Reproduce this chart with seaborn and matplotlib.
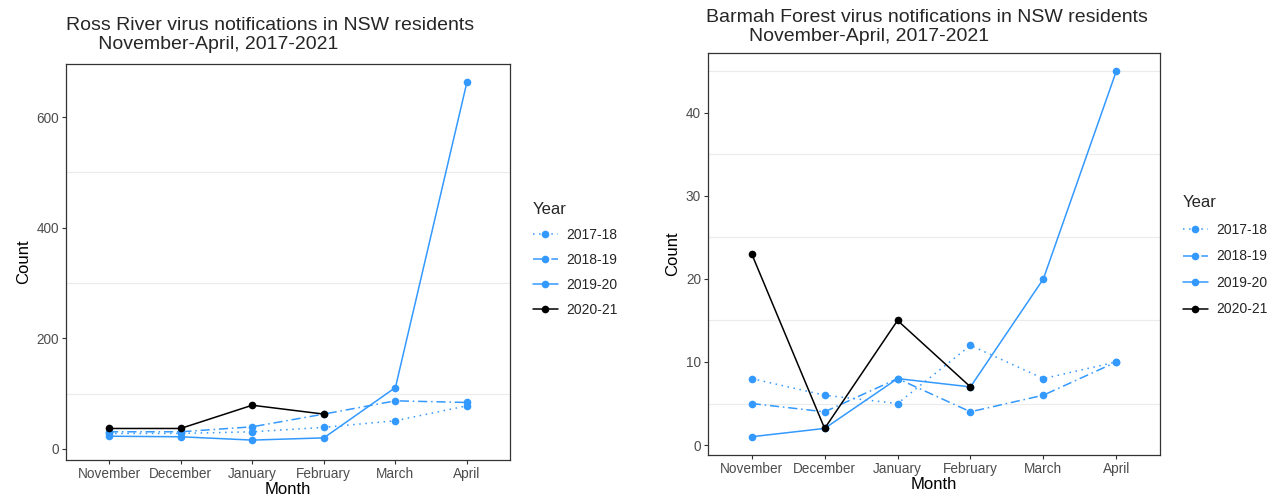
import pandas as pd
import numpy as np
import matplotlib
matplotlib.use('Agg')
import matplotlib.pyplot as plt
import seaborn as sns

months = ['November', 'December', 'January', 'February', 'March', 'April']
years = ['2017-18', '2018-19', '2019-20', '2020-21']

# Ross River virus counts
rrv_1718 = [28, 28, 31, 39, 51, 78]
rrv_1819 = [31, 31, 40, 63, 87, 84]
rrv_1920 = [23, 22, 16, 20, 111, 664]
rrv_2021 = [37, 37, 79, 63]

# Barmah Forest virus counts
bfv_1718 = [8, 6, 5, 12, 8, 10]
bfv_1819 = [5, 4, 8, 4, 6, 10]
bfv_1920 = [1, 2, 8, 7, 20, 45]
bfv_2021 = [23, 2, 15, 7]

blue = '#3399FF'
pal = {'2017-18': blue, '2018-19': blue, '2019-20': blue, '2020-21': 'black'}
dash = {'2017-18': (1, 3), '2018-19': (6, 2.5, 1, 2.5), '2019-20': '', '2020-21': ''}
marks = {y: 'o' for y in years}


def make_df(series):
    rows = []
    for yr, vals in zip(years, series):
        for i, v in enumerate(vals):
            rows.append({'Month': i, 'Count': v, 'Year': yr})
    return pd.DataFrame(rows)


rrv = make_df([rrv_1718, rrv_1819, rrv_1920, rrv_2021])
bfv = make_df([bfv_1718, bfv_1819, bfv_1920, bfv_2021])

sns.set_theme(style='white')
plt.rcParams['font.family'] = ['Liberation Sans', 'DejaVu Sans']

fig = plt.figure(figsize=(12.68, 4.95), dpi=100)
W, H = 1268, 495


def panel(df, rect, title, title_xy, major, minor, ylim, leg_xy, lspace):
    ax = fig.add_axes([rect[0] / W, 1 - rect[3] / H, (rect[2] - rect[0]) / W, (rect[3] - rect[1]) / H])
    sns.lineplot(data=df, x='Month', y='Count', hue='Year', style='Year', palette=pal,
                 dashes=dash, markers=marks, markersize=5.5, markeredgewidth=0,
                 linewidth=1.1, ax=ax, legend=True)
    ax.set_xlim(-0.6, 5.6)
    ax.set_ylim(*ylim)
    ax.set_xticks(range(len(months)))
    ax.set_xticklabels(months)
    ax.set_yticks(major)
    ax.set_yticks(minor, minor=True)
    ax.yaxis.grid(True, which='minor', color='#EBEBEB', lw=0.8)
    ax.yaxis.grid(False, which='major')
    ax.tick_params(axis='both', which='major', length=3, width=0.8, color='#333333',
                   labelcolor='#4D4D4D', labelsize=9.8, pad=2, direction='out', bottom=True, left=True)
    ax.tick_params(axis='y', which='minor', length=0)
    for s in ax.spines.values():
        s.set_color('#333333')
        s.set_linewidth(0.9)
    ax.set_xlabel('Month', fontsize=12, labelpad=1, color='black')
    ax.set_ylabel('Count', fontsize=12, labelpad=4, color='black')
    fig.text(title_xy[0] / W, 1 - title_xy[1] / H, title, fontsize=14, va='top', ha='left',
             linespacing=1.15)
    h, l = ax.get_legend_handles_labels()
    ax.legend(h, l, title='Year', frameon=False, loc='upper left',
              bbox_to_anchor=(leg_xy[0] / W, 1 - leg_xy[1] / H), bbox_transform=fig.transFigure,
              fontsize=10, title_fontsize=12, handlelength=1.8, handletextpad=0.6,
              labelspacing=lspace, alignment='left')
    return ax


panel(rrv, (66, 64, 510, 460),
      'Ross River virus notifications in NSW residents\n      November-April, 2017-2021',
      (66, 17), [0, 200, 400, 600], [100, 300, 500], (-20, 696), (520, 190), 0.78)
panel(bfv, (708, 53, 1160, 455),
      'Barmah Forest virus notifications in NSW residents\n        November-April, 2017-2021',
      (706, 9), [0, 10, 20, 30, 40], [5, 15, 25, 35, 45], (-1.2, 47.2), (1170, 183), 0.9)

fig.savefig('out.png', dpi=100)
